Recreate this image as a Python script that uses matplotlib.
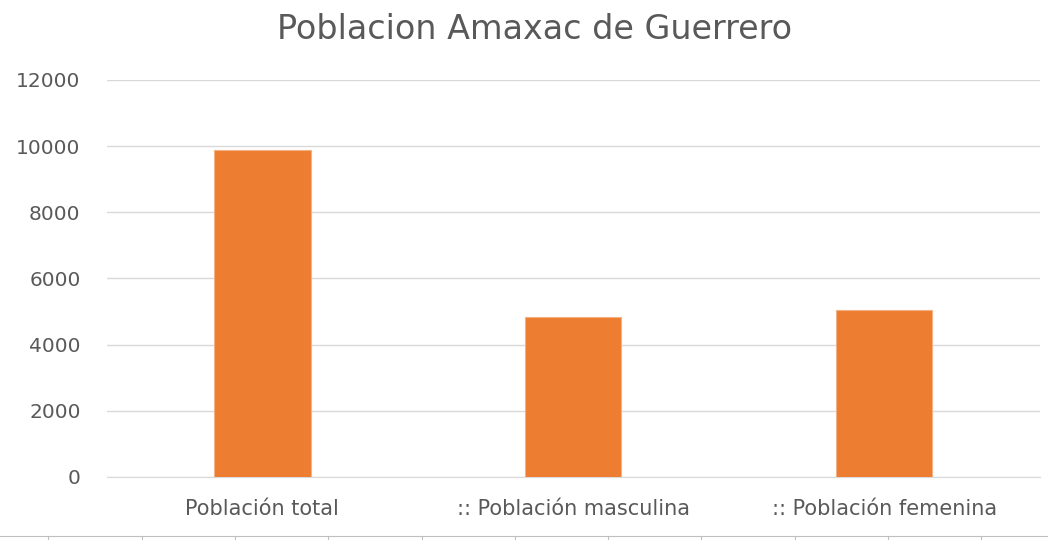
import matplotlib.pyplot as plt
from matplotlib.lines import Line2D

categories = ["Población total", ":: Población masculina", ":: Población femenina"]
values = [9880, 4820, 5050]
yticks = [0, 2000, 4000, 6000, 8000, 10000, 12000]

text_color = "#595959"

fig = plt.figure(figsize=(10.48, 5.4), dpi=100)
ax = fig.add_axes([0.102, 0.1167, 0.890, 0.7353])

ax.bar(categories, values, width=0.31, color="#ED7D31", edgecolor="#F4B183", linewidth=0.8, zorder=3)

ax.set_ylim(0, 12000)
ax.set_xlim(-0.5, 2.5)
ax.set_yticks(yticks)
ax.grid(axis="y", color="#D9D9D9", linewidth=1, zorder=0)
ax.tick_params(axis="both", length=0, colors=text_color)
ax.tick_params(axis="y", labelsize=14.5, pad=19)
ax.tick_params(axis="x", labelsize=15, pad=16)
for s in ["top", "right", "left"]:
    ax.spines[s].set_visible(False)
ax.spines["bottom"].set_color("#D9D9D9")

fig.text(0.51, 0.946, "Poblacion Amaxac de Guerrero", ha="center", va="center", fontsize=24, color=text_color)

# thin border line at the very bottom of the image
fig.add_artist(Line2D([0, 1], [4 / 540, 4 / 540], color="#BFBFBF", linewidth=0.8))
for x in [48, 142, 235, 328, 422, 515, 608, 701, 795, 888, 981]:
    fig.add_artist(Line2D([x / 1048, x / 1048], [0, 4 / 540], color="#BFBFBF", linewidth=0.8))

fig.savefig("out.png", dpi=100)
